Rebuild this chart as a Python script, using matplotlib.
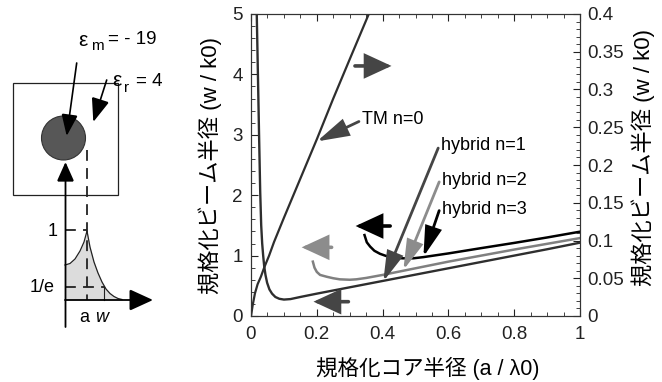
import matplotlib
matplotlib.use("Agg")
import matplotlib.pyplot as plt
from matplotlib.ticker import MultipleLocator, FuncFormatter
from matplotlib.patches import Rectangle, Circle

plt.rcParams['font.family'] = ['Liberation Sans', 'Noto Sans CJK JP', 'DejaVu Sans']

# ---- data ----
# TM n=0 (right axis, w/k0)
x_tm = [0, 0.005, 0.012, 0.02, 0.03, 0.04, 0.055, 0.07, 0.1, 0.15, 0.2, 0.25, 0.3, 0.36]
y_tm = [0, 0.014, 0.030, 0.042, 0.052, 0.064, 0.080, 0.098, 0.130, 0.182, 0.234, 0.288, 0.340, 0.402]

# hybrid n=1 (left axis)
x_n1 = [0.0175, 0.021, 0.0245, 0.028, 0.031, 0.034, 0.037, 0.040, 0.044, 0.049, 0.056, 0.064,
        0.074, 0.086, 0.1, 0.12, 0.15, 0.2, 0.3, 0.4, 0.5, 0.6, 0.7, 0.8, 0.9, 1.0]
y_n1 = [5.0, 4.0, 3.0, 2.05, 1.5, 1.2, 1.0, 0.83, 0.68, 0.55, 0.44, 0.37,
        0.315, 0.285, 0.272, 0.28, 0.315, 0.37, 0.475, 0.58, 0.685, 0.79, 0.895, 1.0, 1.105, 1.214]

# hybrid n=2 (left axis)
x_n2 = [0.188, 0.193, 0.2, 0.21, 0.23, 0.25, 0.27, 0.3, 0.32, 0.35, 0.4, 0.5, 0.6, 0.7, 0.8, 0.9, 1.0]
y_n2 = [0.9, 0.8, 0.73, 0.68, 0.65, 0.625, 0.607, 0.6, 0.607, 0.63, 0.68, 0.79, 0.9, 1.0, 1.1, 1.195, 1.29]

# hybrid n=3 (left axis)
x_n3 = [0.345, 0.352, 0.362, 0.375, 0.392, 0.41, 0.433, 0.46, 0.493, 0.524, 0.6, 0.7, 0.8, 0.9, 1.0]
y_n3 = [1.34, 1.22, 1.15, 1.08, 1.03, 0.995, 0.966, 0.955, 0.955, 0.975, 1.036, 1.124, 1.21, 1.30, 1.396]

fig = plt.figure(figsize=(6.62, 3.82), dpi=100)
W, H = 662, 382

ax = fig.add_axes([251 / W, 66 / H, 329 / W, 302 / H])
ax2 = ax.twinx()

ax.plot(x_n1, y_n1, color='#2e2e2e', lw=1.7, solid_capstyle='butt')
ax.plot(x_n2, y_n2, color='#808080', lw=1.8)
ax.plot(x_n3, y_n3, color='black', lw=1.8)
ax2.plot(x_tm, y_tm, color='#2e2e2e', lw=1.6)

ax.set_xlim(0, 1)
ax.set_ylim(0, 5)
ax2.set_ylim(0, 0.4)

fmt = FuncFormatter(lambda v, p: '%g' % round(v, 3))
ax.xaxis.set_major_locator(MultipleLocator(0.2))
ax.xaxis.set_minor_locator(MultipleLocator(0.05))
ax.yaxis.set_major_locator(MultipleLocator(1))
ax.yaxis.set_minor_locator(MultipleLocator(0.2))
ax2.yaxis.set_major_locator(MultipleLocator(0.05))
ax2.yaxis.set_minor_locator(MultipleLocator(0.01))
for a in (ax.xaxis, ax.yaxis, ax2.yaxis):
    a.set_major_formatter(fmt)

ax.tick_params(which='both', direction='in', top=True, right=False, labelsize=13.5, colors='#222')
ax.tick_params(which='major', length=5, width=0.8)
ax.tick_params(which='minor', length=3, width=0.6)
ax.tick_params(axis='x', pad=7)
ax.tick_params(axis='y', pad=6)
ax2.tick_params(which='both', direction='in', labelsize=13.5, colors='#222', pad=5)
ax2.tick_params(which='major', length=5, width=0.8)
ax2.tick_params(which='minor', length=3, width=0.6)
for a in (ax, ax2):
    for s in a.spines.values():
        s.set_linewidth(0.8)
        s.set_color('#333')

# axis titles
fig.text(210 / W, 1 - 165 / H, '規格化ビーム半径 (w / k0)', rotation=90,
         ha='center', va='center', fontsize=16)
fig.text(643 / W, 1 - 158 / H, '規格化ビーム半径 (w / k0)', rotation=90,
         ha='center', va='center', fontsize=16)
fig.text(428 / W, 1 - 368 / H, '規格化コア半径 (a / λ0)',
         ha='center', va='center', fontsize=15.5)


def arrow(a, tail, head, color, lw, hl, hw, ms=12):
    a.annotate('', xy=head, xytext=tail,
               arrowprops=dict(arrowstyle='-|>,head_length=%g,head_width=%g' % (hl, hw),
                               color=color, lw=lw, shrinkA=0, shrinkB=0,
                               mutation_scale=ms, joinstyle='miter'))


# direction arrows
arrow(ax, (0.316, 4.14), (0.427, 4.14), '#454545', 2.6, 1.3, 0.6)
arrow(ax, (0.423, 1.49), (0.318, 1.49), 'black', 2.6, 1.3, 0.6)
arrow(ax, (0.245, 1.137), (0.154, 1.137), '#8c8c8c', 2.6, 1.3, 0.6)
arrow(ax, (0.296, 0.237), (0.19, 0.237), '#454545', 2.6, 1.3, 0.6)

# labels with pointer arrows
ax.text(0.337, 3.25, 'TM n=0', fontsize=13, va='center', ha='left')
arrow(ax, (0.328, 3.22), (0.2, 2.89), '#454545', 2.0, 1.6, 0.45)
ax.text(0.577, 2.83, 'hybrid n=1', fontsize=13, va='center', ha='left')
arrow(ax, (0.569, 2.78), (0.402, 0.57), '#454545', 2.0, 1.5, 0.42)
ax.text(0.582, 2.25, 'hybrid n=2', fontsize=13, va='center', ha='left')
arrow(ax, (0.572, 2.22), (0.463, 0.76), '#8c8c8c', 2.0, 1.5, 0.42)
ax.text(0.582, 1.755, 'hybrid n=3', fontsize=13, va='center', ha='left')
arrow(ax, (0.572, 1.745), (0.524, 0.98), 'black', 2.0, 1.5, 0.42)

# ---- left schematic (figure pixel coordinates) ----
ov = fig.add_axes([0, 0, 1, 1], zorder=-1)
ov.set_xlim(0, W)
ov.set_ylim(H, 0)
ov.axis('off')

prof_x = [65, 70, 75, 80, 84, 87, 90, 94, 98, 102, 106, 110, 114, 118, 122]
prof_y = [265, 263.5, 259, 251, 242, 231, 247, 262, 273, 282, 289, 293.5, 296.5, 298.5, 299.5]

ov.add_patch(Rectangle((13, 83), 105, 112, fill=False, ec='#222', lw=0.9))
ov.add_patch(Circle((63.5, 138), 22, fc='#575757', ec='#333', lw=0.8))
ov.plot([87, 87], [150, 300], color='#222', lw=1.3, dashes=(6, 4))
ov.plot([65, 87], [230, 230], color='#222', lw=1.3, dashes=(6, 4))
ov.plot([65, 105], [287, 287], color='#222', lw=1.3, dashes=(6, 4))
ov.plot([104, 104], [287, 300], color='#222', lw=0.8)
ov.fill_between(prof_x, prof_y, 300, color='#dcdcdc', lw=0)
ov.plot(prof_x, prof_y, color='#222', lw=0.9)

arrow(ov, (65.5, 327), (65.5, 162), 'black', 1.3, 0.85, 0.38, ms=14)
arrow(ov, (65, 300), (153, 300), 'black', 1.3, 1.05, 0.48, ms=14)
arrow(ov, (76.7, 63), (66.7, 136), 'black', 1.2, 0.95, 0.36, ms=14)
arrow(ov, (106.7, 80), (93.3, 122), 'black', 1.2, 1.05, 0.4, ms=14)

ov.text(52.5, 231, '1', fontsize=13, ha='center', va='center')
ov.text(42.5, 288, '1/e', fontsize=13, ha='center', va='center')
ov.text(84, 318, 'a', fontsize=13, ha='center', va='center')
ov.text(102, 318, 'w', fontsize=13, ha='center', va='center', style='italic')
ov.text(78, 40, 'ε', fontsize=15, ha='left', va='center')
ov.text(91, 46, 'm', fontsize=11, ha='left', va='center')
ov.text(108, 40, '= - 19', fontsize=13.5, ha='left', va='center')
ov.text(112, 80, 'ε', fontsize=15, ha='left', va='center')
ov.text(124, 88, 'r', fontsize=11, ha='left', va='center')
ov.text(136, 82, '= 4', fontsize=13.5, ha='left', va='center')

fig.savefig('out.png', dpi=100)
